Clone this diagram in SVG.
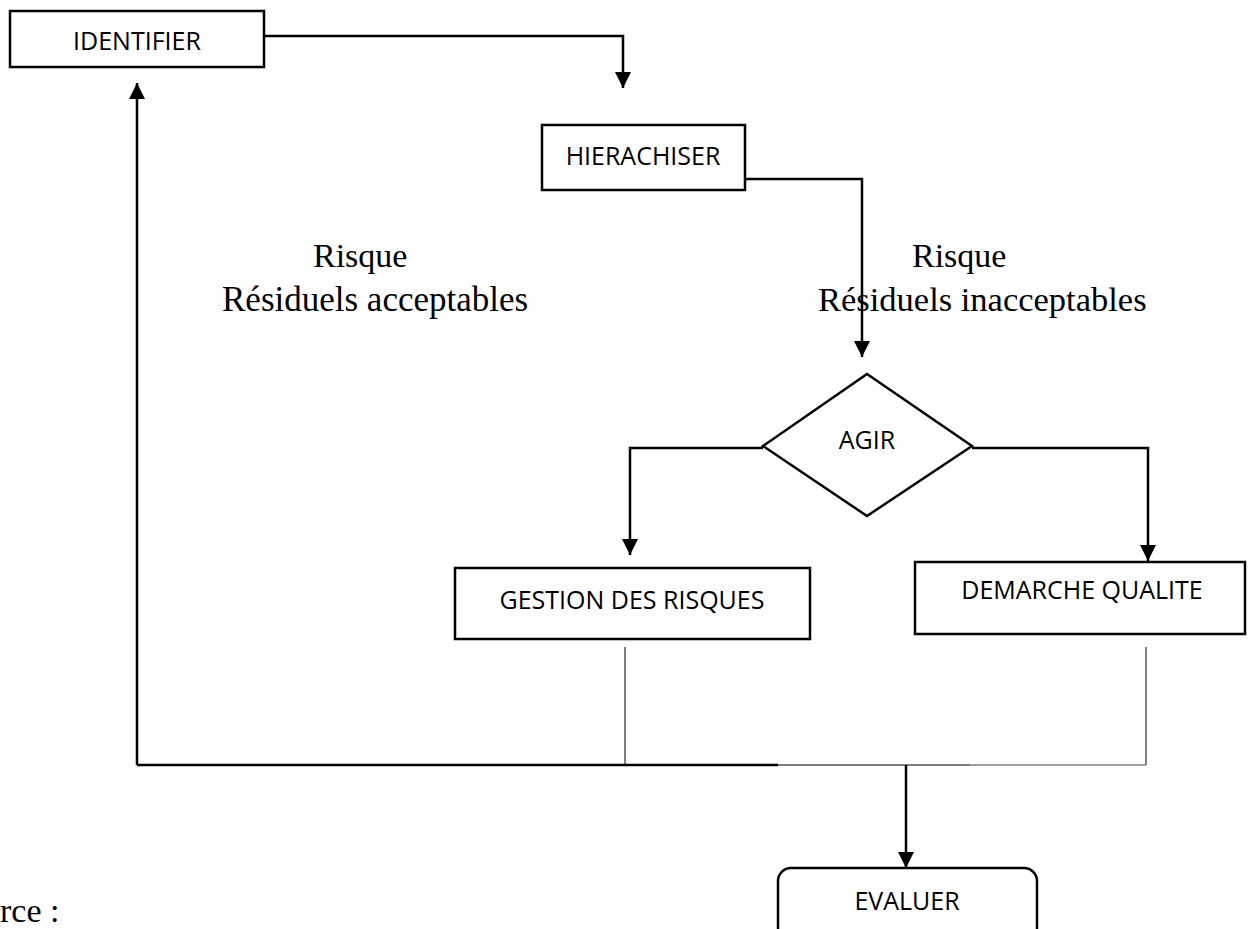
<svg xmlns="http://www.w3.org/2000/svg" width="1253" height="929" viewBox="0 0 1253 929">
<defs>
<style>
.box{fill:#fff;stroke:#000;stroke-width:2.5}
.lbl{font-family:"Open Sans","Liberation Sans",sans-serif;font-size:25px;fill:#000;text-anchor:middle}
.ser{font-family:"Liberation Serif","Times New Roman",serif;font-size:34px;fill:#000}
.c{fill:none;stroke:#000;stroke-width:2.5}
.thin{fill:none;stroke:#000;stroke-width:1}
</style>
<marker id="ah" markerUnits="userSpaceOnUse" markerWidth="16" markerHeight="16" viewBox="0 0 16 16" refX="16" refY="8" orient="auto">
<path d="M0,0 L16,8 L0,16 z" fill="#000"/>
</marker>
</defs>
<rect width="1253" height="929" fill="#fff"/>
<g id="connectors">
<path class="c" d="M264,36 H623 V88" marker-end="url(#ah)"/>
<path class="c" d="M745,179 H862 V357" marker-end="url(#ah)"/>
<path class="c" d="M763,448 H630 V555" marker-end="url(#ah)"/>
<path class="c" d="M972,448 H1148 V561" marker-end="url(#ah)"/>
<path class="thin" d="M625,647 V765"/>
<path class="thin" d="M1146,647 V765" stroke="#444"/>
<path class="c" d="M137,765 H778"/>
<path fill="none" stroke="#555" stroke-width="1.6" d="M778,765 H970"/>
<path fill="none" stroke="#444" stroke-width="1.2" d="M970,765 H1146"/>
<path class="c" d="M137,765 V83" marker-end="url(#ah)"/>
<path class="c" d="M906,765 V868" marker-end="url(#ah)"/>
</g>
<g id="identifier">
<rect class="box" x="10" y="11" width="254" height="56"/>
<text class="lbl" x="137" y="50">IDENTIFIER</text>
</g>
<g id="hierachiser">
<rect class="box" x="542" y="125" width="203" height="65"/>
<text class="lbl" x="643" y="165">HIERACHISER</text>
</g>
<g id="agir">
<polygon class="box" points="867,374 972,446 867,516 763,446"/>
<text class="lbl" x="867" y="449">AGIR</text>
</g>
<g id="gestion">
<rect class="box" x="455" y="568" width="355" height="71"/>
<text class="lbl" x="632" y="609">GESTION DES RISQUES</text>
</g>
<g id="demarche">
<rect class="box" x="915" y="562" width="330" height="72"/>
<text class="lbl" x="1082" y="599">DEMARCHE QUALITE</text>
</g>
<g id="evaluer">
<rect class="box" x="778" y="868" width="259" height="90" rx="13" ry="13"/>
<text class="lbl" x="907" y="910">EVALUER</text>
</g>
<g id="labels">
<text class="ser" x="313" y="267">Risque</text>
<text class="ser" x="222" y="311" style="font-size:35px">Résiduels acceptables</text>
<text class="ser" x="912" y="267">Risque</text>
<text class="ser" x="818" y="311" style="font-size:34.5px">Résiduels inacceptables</text>
<text class="ser" x="0" y="922">rce :</text>
</g>
</svg>
